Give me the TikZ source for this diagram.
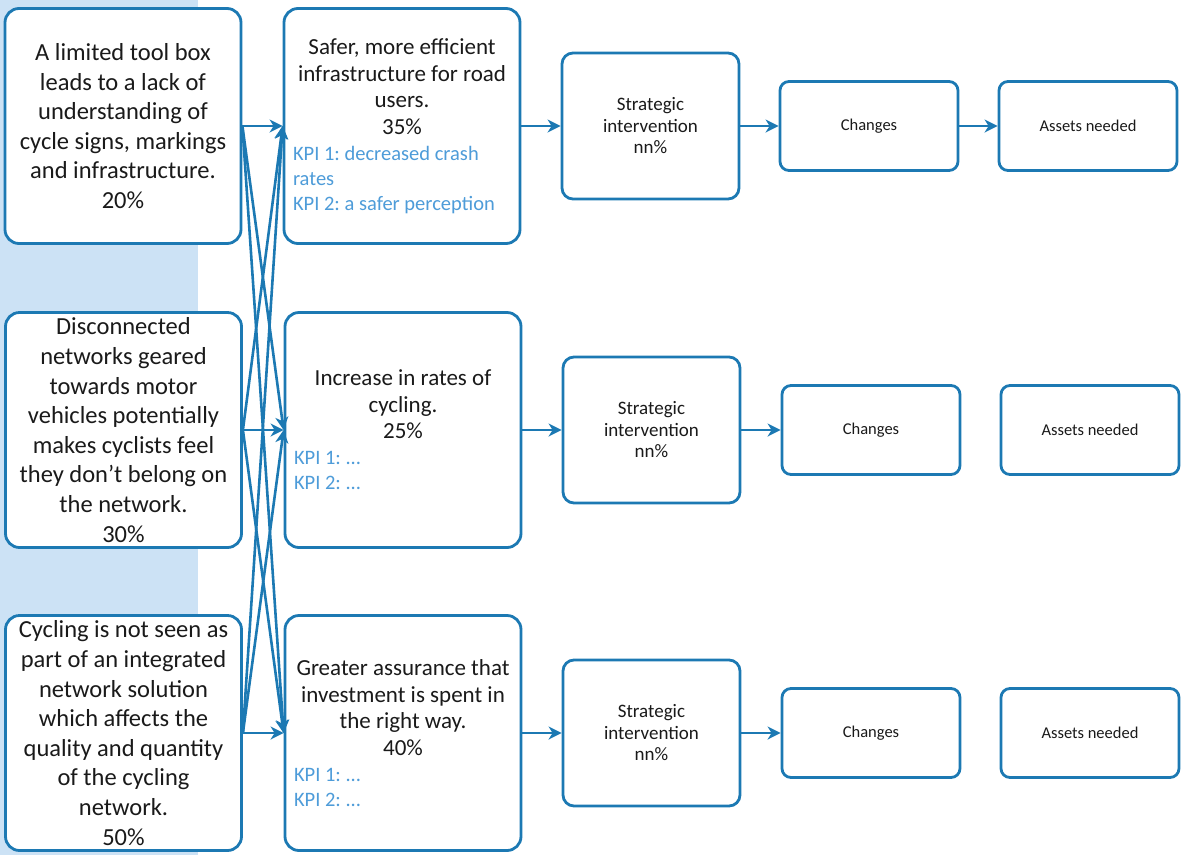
\documentclass[tikz,border=0pt]{standalone}
\usepackage{fontspec}
\setmainfont{Carlito}
\usetikzlibrary{arrows.meta}
\definecolor{bord}{HTML}{1C79B3}
\definecolor{kpi}{HTML}{4E9CD9}
\definecolor{band}{HTML}{CCE2F5}
\definecolor{txt}{HTML}{1A1A1A}
\newcommand{\mainsz}{\fontsize{23}{26.5}\selectfont}
\newcommand{\kpisz}{\fontsize{20.5}{25}\selectfont\color{kpi}}
\frenchspacing
\begin{document}
\begin{tikzpicture}[x=1pt,y=-1pt,
 box/.style={draw=bord, line width=2.8pt, fill=white, rounded corners=14pt, text=txt, inner sep=0pt},
 leftbox/.style={box, minimum width=236pt, minimum height=235pt, align=center, font=\fontsize{24.5}{29.6}\selectfont},
 midbox/.style={box, minimum width=236pt, minimum height=235pt},
 stratbox/.style={box, minimum width=177pt, minimum height=146pt, rounded corners=11pt, align=center, font=\fontsize{19}{21.5}\selectfont},
 smallbox/.style={box, minimum width=178pt, minimum height=89pt, rounded corners=9pt, font=\fontsize{16.5}{20}\selectfont},
 arr/.style={draw=bord, line width=2.6pt, -{Stealth[length=13pt,width=13pt,inset=4pt]}}
]
\useasboundingbox (0,0) rectangle (1181,855);
\fill[band] (0,0) rectangle (198,855);

% left column
\node[leftbox] (L1) at (123,126) {A limited tool box\\leads to a lack of\\understanding of\\cycle signs, markings\\and infrastructure.\\20\%};
\node[leftbox] (L2) at (123.5,430) {Disconnected\\networks geared\\towards motor\\vehicles potentially\\makes cyclists feel\\they don’t belong on\\the network.\\30\%};
\node[leftbox] (L3) at (123.5,733) {Cycling is not seen as\\part of an integrated\\network solution\\which affects the\\quality and quantity\\of the cycling\\network.\\50\%};

% middle column
\node[midbox] (M1) at (402,126) {\begin{minipage}{218pt}\centering\mainsz Safer, more efficient\\infrastructure for road\\users.\\35\%\par\vspace{1pt}\raggedright\kpisz KPI 1: decreased crash\\rates\\KPI 2: a safer perception\par\end{minipage}};
\node[midbox] (M2) at (403,430) {\begin{minipage}{218pt}\centering\mainsz Increase in rates of\\cycling.\\25\%\par\vspace{1pt}\raggedright\kpisz KPI 1: ...\\KPI 2: ...\par\end{minipage}};
\node[midbox] (M3) at (403,733) {\begin{minipage}{218pt}\centering\mainsz Greater assurance that\\investment is spent in\\the right way.\\40\%\par\vspace{1pt}\raggedright\kpisz KPI 1: ...\\KPI 2: ...\par\end{minipage}};

% strategic column
\node[stratbox] (S1) at (650.5,126) {Strategic\\intervention\\nn\%};
\node[stratbox] (S2) at (651.5,430) {Strategic\\intervention\\nn\%};
\node[stratbox] (S3) at (651.5,733) {Strategic\\intervention\\nn\%};

% changes column
\node[smallbox] (C1) at (869,126) {Changes};
\node[smallbox] (C2) at (871,430) {Changes};
\node[smallbox] (C3) at (871,733) {Changes};

% assets column
\node[smallbox] (A1) at (1088,126) {Assets needed};
\node[smallbox] (A2) at (1090,430) {Assets needed};
\node[smallbox] (A3) at (1090,733) {Assets needed};

% connectors left -> middle (all pairs)
\foreach \i in {1,2,3}{
  \foreach \j in {1,2,3}{
    \draw[arr] (L\i.east) -- (M\j.west);
  }
}
\foreach \i in {1,2,3}{
  \draw[arr] (M\i) -- (S\i);
  \draw[arr] (S\i) -- (C\i);
}
\draw[arr] (C1) -- (A1);
\end{tikzpicture}
\end{document}
